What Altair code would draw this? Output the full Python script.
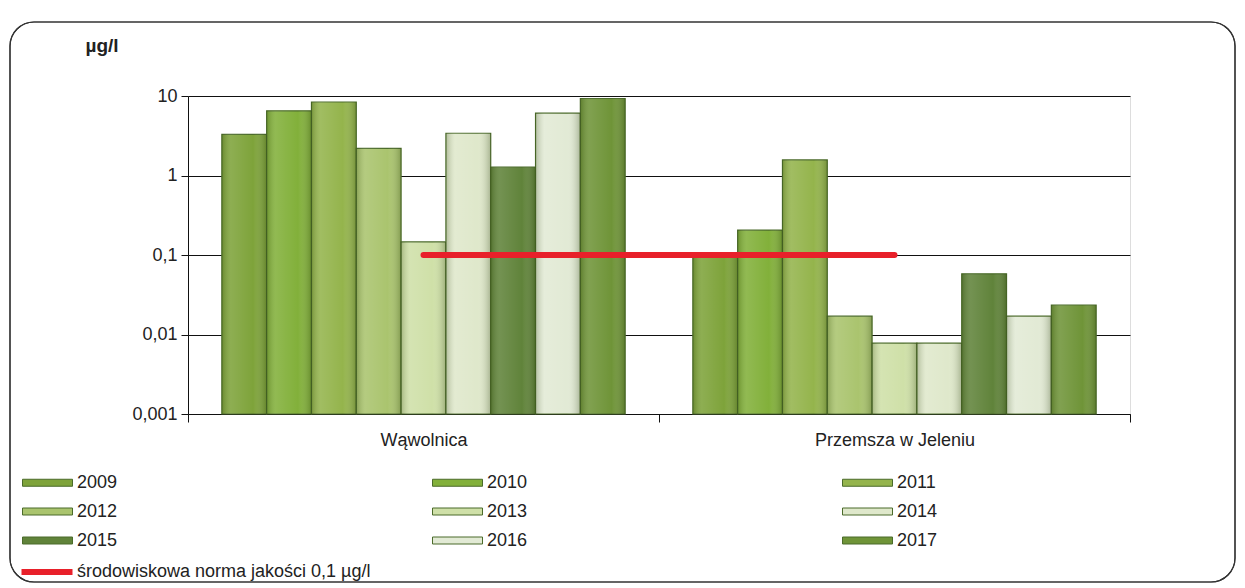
import altair as alt
import pandas as pd

sites = ["Wąwolnica", "Przemsza w Jeleniu"]
years = ["2009", "2010", "2011", "2012", "2013", "2014", "2015", "2016", "2017"]
wawolnica = [3.3, 6.5, 8.4, 2.2, 0.146, 3.4, 1.28, 6.1, 9.3]
przemsza = [0.106, 0.206, 1.57, 0.017, 0.0078, 0.0078, 0.058, 0.017, 0.0235]
year_colors = ["#7ea33a", "#82b03a", "#94b44c", "#aac46e", "#cfe0a8",
               "#dfe8cb", "#60833a", "#e2ead5", "#6f9438"]
norm_label = "środowiskowa norma jakości 0,1 µg/l"
norm_value = 0.1
y_ticks = [0.001, 0.01, 0.1, 1, 10]

rows = []
for site, vals in zip(sites, [wawolnica, przemsza]):
    for yr, v in zip(years, vals):
        rows.append({"site": site, "year": yr, "value": v, "base": 0.001})
bars_df = pd.DataFrame(rows)
norm_df = pd.DataFrame({"site": sites, "value": [norm_value] * 2, "series": [norm_label] * 2})

FONT = "Liberation Sans"
FS = 18

x_scale = alt.Scale(paddingInner=0, paddingOuter=0)
off_scale = alt.Scale(paddingInner=0, paddingOuter=0.755)
x_enc = alt.X("site:N", sort=sites, scale=x_scale,
              axis=alt.Axis(title=None, labelFontSize=FS, labelPadding=9, labelFont=FONT,
                            labelColor="#222", ticks=True, tickBand="extent", tickSize=8,
                            tickColor="#111", domainColor="#111", labelAngle=0))
y_scale = alt.Scale(type="log", domain=[0.001, 10])

bars = alt.Chart(bars_df).mark_bar(stroke="#4b6b2a", strokeWidth=1.2).encode(
    x=x_enc,
    xOffset=alt.XOffset("year:N", sort=years, scale=off_scale),
    y=alt.Y("value:Q", scale=y_scale,
            axis=alt.Axis(values=y_ticks, grid=True, gridColor="#111", gridWidth=1.2,
                          domainColor="#111", tickColor="#111", tickSize=7,
                          labelFontSize=FS, labelFont=FONT, labelColor="#222", labelPadding=4,
                          labelExpr="replace(toString(datum.value), '.', ',')",
                          title="µg/l", titleAngle=0, titleAlign="left", titleBaseline="middle",
                          titleX=-103, titleY=-51, titleFontSize=19, titleFont=FONT,
                          titleFontWeight="bold", titleColor="#222")),
    y2=alt.Y2("base:Q"),
    fill=alt.Fill("year:N", sort=years,
                  scale=alt.Scale(domain=years, range=year_colors),
                  legend=alt.Legend(title=None, orient="none", legendX=-151, legendY=376,
                                    columns=3, direction="horizontal", columnPadding=312,
                                    rowPadding=9, labelFontSize=FS, labelFont=FONT,
                                    labelColor="#222", labelOffset=19,
                                    symbolType="M-2.5,-0.35L2.5,-0.35L2.5,0.35L-2.5,0.35Z",
                                    symbolSize=400, symbolStrokeColor="#4b6b2a",
                                    symbolStrokeWidth=1, symbolOpacity=1)),
)

shade = alt.Chart(bars_df).mark_bar(
    fill=alt.Gradient(gradient="linear", x1=0, x2=1, y1=0, y2=0,
                      stops=[alt.GradientStop(color="rgba(40,60,10,0.25)", offset=0),
                             alt.GradientStop(color="rgba(255,255,255,0.12)", offset=0.2),
                             alt.GradientStop(color="rgba(255,255,255,0.0)", offset=0.7),
                             alt.GradientStop(color="rgba(40,60,10,0.3)", offset=1)]),
).encode(
    x=alt.X("site:N", sort=sites, scale=x_scale),
    xOffset=alt.XOffset("year:N", sort=years, scale=off_scale),
    y=alt.Y("value:Q", scale=y_scale),
    y2=alt.Y2("base:Q"),
)

line = alt.Chart(norm_df).mark_line(strokeWidth=6, strokeCap="round").encode(
    x=alt.X("site:N", sort=sites),
    y=alt.Y("value:Q", scale=y_scale),
    stroke=alt.Stroke("series:N",
                      scale=alt.Scale(domain=[norm_label], range=["#e8202a"]),
                      legend=alt.Legend(title=None, orient="none", legendX=-154, legendY=463,
                                        labelFontSize=FS, labelFont=FONT, labelColor="#222",
                                        labelOffset=17, labelLimit=500,
                                        symbolType="M-2.55,0L2.55,0",
                                        symbolSize=400, symbolStrokeWidth=6)),
)

frame = alt.Chart(norm_df).mark_rect(
    fill=None, stroke="#333", strokeWidth=1.2, cornerRadius=24
).encode(
    x=alt.value(-178), x2=alt.value(1047), y=alt.value(-74), y2=alt.value(486)
)

chart = alt.layer(frame, bars, shade, line).resolve_scale(
    fill="independent", stroke="independent"
).properties(
    width=942, height=318,
    autosize=alt.AutoSizeParams(type="none"),
    padding={"left": 180, "top": 88, "right": 106, "bottom": 172},
).configure_view(stroke=None).configure(background="white")

chart.save("out.html", embed_options={"renderer": "svg", "actions": False})
